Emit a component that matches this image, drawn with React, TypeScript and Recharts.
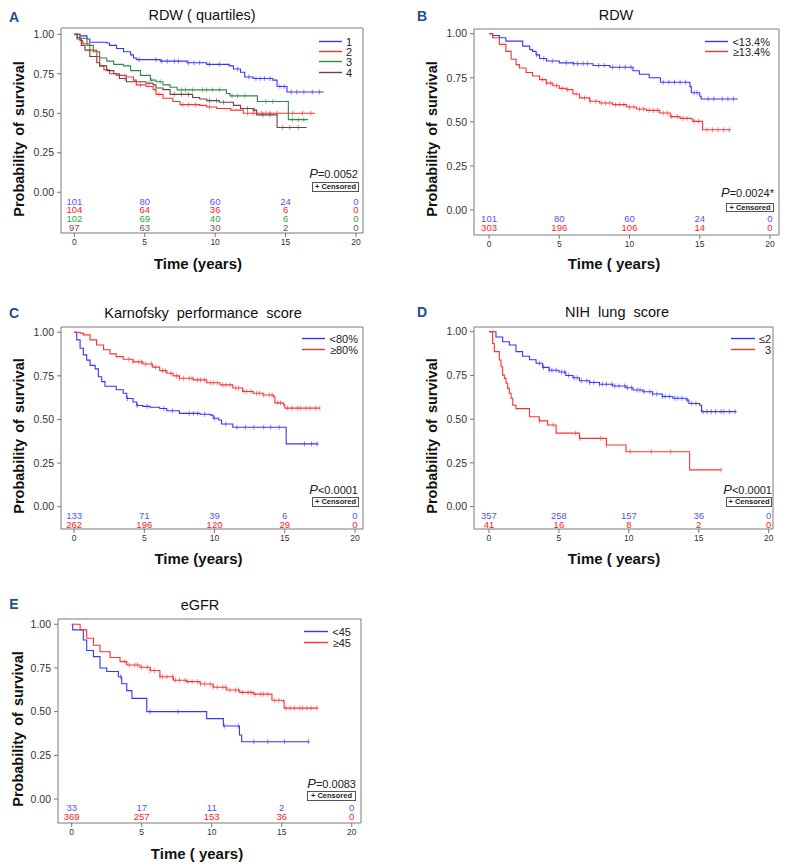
import React from 'react';
import { ComposedChart, Line, Scatter, XAxis, YAxis, ReferenceArea } from 'recharts';

type Pt = [number, number];

const xTicks = [0, 5, 10, 15, 20];
const yTicks = [0, 0.25, 0.5, 0.75, 1];

// A: RDW (quartiles)
const aQ1: Pt[] = [[0, 1], [0.4, 0.99], [0.9, 0.97], [1.1, 0.95], [2.3, 0.945], [2.5, 0.93], [3.0, 0.91], [3.5, 0.89], [4.0, 0.87], [4.2, 0.85], [4.4, 0.84], [6.1, 0.83], [8.0, 0.82], [9.4, 0.81], [11.0, 0.8], [11.3, 0.78], [11.8, 0.76], [12.1, 0.73], [12.7, 0.72], [14.1, 0.71], [14.4, 0.67], [15.1, 0.635], [17.7, 0.635]];
const aQ2: Pt[] = [[0, 1], [0.2, 0.98], [0.4, 0.96], [0.6, 0.94], [1.1, 0.9], [1.6, 0.86], [1.8, 0.8], [2.1, 0.775], [2.5, 0.75], [3.0, 0.74], [3.7, 0.73], [4.2, 0.71], [4.4, 0.68], [5.1, 0.67], [5.6, 0.65], [5.8, 0.62], [6.3, 0.595], [7.0, 0.575], [7.5, 0.555], [8.9, 0.55], [9.4, 0.54], [10.1, 0.53], [11.1, 0.52], [12.0, 0.5], [17.1, 0.5]];
const aQ3: Pt[] = [[0, 1], [0.4, 0.975], [0.9, 0.93], [1.35, 0.89], [1.8, 0.85], [2.3, 0.83], [2.8, 0.81], [3.5, 0.8], [4.0, 0.77], [4.7, 0.74], [5.4, 0.71], [5.8, 0.7], [6.3, 0.68], [6.8, 0.665], [7.3, 0.648], [10.8, 0.625], [11.05, 0.61], [13.0, 0.575], [15.2, 0.46], [16.6, 0.46]];
const aQ4: Pt[] = [[0, 1], [0.2, 0.97], [0.5, 0.93], [0.76, 0.9], [1.1, 0.86], [1.6, 0.82], [1.8, 0.8], [2.3, 0.77], [2.8, 0.75], [3.2, 0.72], [3.7, 0.7], [5.1, 0.69], [5.6, 0.68], [5.8, 0.66], [6.3, 0.65], [6.8, 0.62], [8.4, 0.6], [8.9, 0.59], [9.4, 0.58], [10.3, 0.57], [11.3, 0.55], [11.8, 0.53], [12.7, 0.52], [12.95, 0.49], [14.4, 0.41], [16.5, 0.41]];
const aQ1Cens = [4.6, 5.8, 6.2, 6.6, 7.1, 7.4, 8.1, 8.5, 8.9, 9.6, 10.3, 11.6, 12.4, 12.9, 13.2, 13.5, 13.9, 14.6, 14.9, 15.4, 15.8, 16.3, 16.9, 17.4];
const aQ2Cens = [4.7, 6.0, 7.7, 8.1, 8.6, 9.6, 12.3, 12.7, 13.3, 13.6, 13.9, 14.4, 15.5, 16.2, 16.8];
const aQ3Cens = [5.5, 6.1, 7.6, 7.9, 8.4, 9.1, 9.4, 9.8, 10.3, 11.2, 11.6, 12.1, 13.6, 14.1, 15.5, 15.9, 16.3];
const aQ4Cens = [3.6, 5.3, 7.1, 7.6, 8.1, 9.6, 10.1, 10.6, 12.3, 12.8, 13.4, 13.9, 14.8, 15.3, 15.9];
const aQ1Risk = [101, 80, 60, 24, 0];
const aQ2Risk = [104, 64, 36, 6, 0];
const aQ3Risk = [102, 69, 40, 6, 0];
const aQ4Risk = [97, 63, 30, 2, 0];

// B: RDW
const bLow: Pt[] = [[0, 1], [0.26, 0.99], [0.74, 0.977], [1.2, 0.958], [2.4, 0.93], [2.9, 0.91], [3.1, 0.9], [3.35, 0.88], [3.6, 0.86], [4.1, 0.845], [5.0, 0.835], [6.0, 0.83], [7.4, 0.82], [8.6, 0.81], [10.25, 0.79], [10.7, 0.77], [11.4, 0.75], [12.2, 0.725], [14.3, 0.7], [14.4, 0.665], [15.0, 0.645], [15.1, 0.63], [17.7, 0.63]];
const bHigh: Pt[] = [[0, 1], [0.26, 0.977], [0.74, 0.94], [1.2, 0.9], [1.57, 0.855], [1.93, 0.825], [2.16, 0.806], [2.64, 0.78], [3.1, 0.76], [3.6, 0.74], [4.07, 0.72], [4.54, 0.705], [5.0, 0.69], [5.5, 0.683], [5.97, 0.658], [6.44, 0.636], [7.16, 0.617], [7.87, 0.607], [8.8, 0.598], [9.8, 0.584], [10.5, 0.573], [11.2, 0.565], [12.15, 0.55], [12.9, 0.53], [13.6, 0.52], [14.4, 0.516], [14.5, 0.503], [15.2, 0.455], [17.2, 0.455]];
const bLowCens = [3.4, 3.9, 4.5, 5.5, 6.0, 6.3, 6.7, 7.0, 7.8, 8.2, 8.8, 9.3, 9.7, 10.1, 12.4, 12.8, 13.2, 13.6, 14.0, 14.6, 14.8, 15.6, 16.0, 16.6, 17.0, 17.4];
const bHighCens = [3.8, 4.1, 4.4, 4.8, 5.2, 5.6, 6.2, 6.8, 7.2, 7.6, 8.0, 8.3, 8.6, 9.0, 9.3, 9.6, 10.0, 10.3, 10.7, 11.0, 11.4, 11.7, 12.0, 12.4, 12.7, 13.0, 13.4, 13.8, 14.1, 14.6, 14.9, 15.5, 15.9, 16.3, 16.7, 17.1];
const bLowRisk = [101, 80, 60, 24, 0];
const bHighRisk = [303, 196, 106, 14, 0];

// C: Karnofsky performance score
const cLow: Pt[] = [[0, 1], [0.19, 0.956], [0.43, 0.908], [0.66, 0.87], [0.9, 0.84], [1.14, 0.81], [1.5, 0.79], [1.73, 0.745], [1.97, 0.717], [2.2, 0.69], [3.0, 0.67], [3.5, 0.65], [3.75, 0.62], [4.2, 0.6], [4.46, 0.58], [4.9, 0.575], [5.4, 0.57], [6.1, 0.563], [6.6, 0.55], [7.5, 0.535], [8.97, 0.53], [9.7, 0.525], [9.9, 0.507], [10.3, 0.497], [10.5, 0.474], [11.3, 0.455], [15.1, 0.36], [17.4, 0.36]];
const cHigh: Pt[] = [[0, 1], [0.43, 0.995], [0.66, 0.985], [1.14, 0.956], [1.6, 0.927], [2.1, 0.9], [2.56, 0.876], [3.0, 0.86], [3.5, 0.845], [4.2, 0.83], [4.9, 0.818], [5.6, 0.8], [6.1, 0.78], [6.6, 0.765], [7.05, 0.75], [7.5, 0.736], [8.5, 0.727], [9.44, 0.71], [10.4, 0.698], [11.3, 0.68], [12.0, 0.66], [12.76, 0.65], [13.45, 0.64], [14.2, 0.63], [14.3, 0.595], [14.9, 0.585], [15.0, 0.565], [17.5, 0.565]];
const cLowCens = [3.8, 4.5, 5.2, 6.4, 7.0, 8.2, 8.5, 8.8, 9.3, 10.0, 10.8, 11.6, 12.2, 12.8, 13.5, 14.0, 14.6, 16.4, 16.9, 17.3];
const cHighCens = [3.9, 4.2, 4.6, 4.8, 5.1, 5.5, 5.8, 6.3, 6.5, 6.9, 7.3, 7.5, 7.8, 8.2, 8.4, 8.8, 9.0, 9.3, 9.7, 9.9, 10.2, 10.6, 10.8, 11.1, 11.5, 11.7, 12.1, 12.3, 12.6, 13.0, 13.2, 13.5, 13.9, 14.1, 14.5, 14.7, 15.2, 15.5, 15.9, 16.1, 16.5, 16.8, 17.2, 17.5];
const cLowRisk = [133, 71, 39, 6, 0];
const cHighRisk = [262, 196, 120, 29, 0];

// D: NIH lung score
const dLow: Pt[] = [[0, 1], [0.5, 0.97], [0.98, 0.943], [1.46, 0.924], [1.93, 0.886], [2.4, 0.86], [2.9, 0.84], [3.37, 0.82], [3.84, 0.796], [4.3, 0.78], [5.0, 0.77], [5.5, 0.75], [6.0, 0.737], [6.47, 0.72], [7.2, 0.71], [7.9, 0.7], [8.85, 0.69], [9.8, 0.68], [10.3, 0.667], [11.0, 0.657], [11.7, 0.644], [12.4, 0.63], [13.15, 0.62], [14.1, 0.61], [14.3, 0.59], [15.06, 0.58], [15.2, 0.543], [17.7, 0.543]];
const dHigh: Pt[] = [[0, 1], [0.26, 0.933], [0.38, 0.886], [0.74, 0.838], [0.86, 0.8], [0.98, 0.752], [1.1, 0.733], [1.22, 0.705], [1.34, 0.676], [1.46, 0.648], [1.58, 0.62], [1.7, 0.58], [1.93, 0.56], [2.9, 0.514], [3.6, 0.49], [4.2, 0.467], [4.8, 0.42], [6.47, 0.39], [8.4, 0.352], [9.8, 0.314], [14.35, 0.21], [16.6, 0.21]];
const dLowCens = [3.6, 3.9, 4.3, 4.5, 4.8, 5.2, 5.4, 5.7, 6.1, 6.3, 6.6, 7.0, 7.2, 7.5, 7.9, 8.1, 8.4, 8.8, 9.0, 9.3, 9.7, 9.9, 10.2, 10.6, 10.8, 11.1, 11.5, 11.7, 12.0, 12.4, 12.6, 12.9, 13.3, 13.5, 13.8, 14.2, 14.5, 14.8, 15.3, 15.6, 15.9, 16.2, 16.6, 16.8, 17.2, 17.6];
const dHighCens = [3.6, 4.6, 6.2, 6.5, 8.0, 8.4, 10.1, 11.6, 13.0, 16.6];
const dLowRisk = [357, 258, 157, 36, 0];
const dHighRisk = [41, 16, 8, 2, 0];

// E: eGFR
const eLow: Pt[] = [[0, 1], [0.07, 0.968], [0.83, 0.91], [1.07, 0.85], [1.55, 0.815], [2.02, 0.75], [2.5, 0.73], [3.33, 0.7], [3.57, 0.66], [3.93, 0.62], [4.3, 0.576], [5.36, 0.5], [9.64, 0.46], [10.83, 0.418], [11.98, 0.366], [12.14, 0.328], [17.0, 0.328]];
const eHigh: Pt[] = [[0, 1], [0.6, 0.968], [1.07, 0.92], [1.55, 0.88], [2.02, 0.843], [2.74, 0.81], [3.45, 0.786], [3.93, 0.767], [4.88, 0.754], [5.6, 0.735], [6.3, 0.7], [7.26, 0.68], [8.2, 0.672], [9.17, 0.658], [10.1, 0.64], [11.07, 0.624], [12.0, 0.61], [12.98, 0.6], [14.3, 0.565], [15.12, 0.56], [15.17, 0.52], [17.6, 0.52]];
const eLowCens = [3.5, 5.6, 7.6, 10.9, 11.9, 13.0, 14.0, 15.2, 16.9];
const eHighCens = [3.8, 4.1, 4.5, 4.7, 5.0, 5.4, 5.6, 5.9, 6.3, 6.5, 6.8, 7.2, 7.4, 7.7, 8.1, 8.3, 8.6, 9.0, 9.2, 9.5, 9.9, 10.1, 10.4, 10.8, 11.0, 11.3, 11.7, 11.9, 12.2, 12.6, 12.8, 13.1, 13.5, 13.7, 14.0, 14.5, 14.8, 15.3, 15.6, 15.9, 16.3, 16.5, 16.8, 17.1, 17.5];
const eLowRisk = [33, 17, 11, 2, 0];
const eHighRisk = [369, 257, 153, 36, 0];

const BLUE = '#3535ff';
const RED = '#ff3030';
const GREEN = '#2f8a45';
const BROWN = '#6e4242';

interface Series {
  name: string;
  color: string;
  numColor: string;
  steps: Pt[];
  censor: number[];
  atRisk: number[];
}

interface PanelCfg {
  letter: string;
  letterPos: [number, number];
  title: string;
  titlePos: [number, number];
  box: { l: number; t: number; r: number; b: number };
  xDomain: [number, number];
  yDomain: [number, number];
  yLabelPos: [number, number];
  xLabel: string;
  xLabelPos: [number, number];
  legend: { x1: number; x2: number; right: number; rows: number[] };
  pSign: string;
  pPos: [number, number];
  cens: { l: number; t: number; r: number; b: number };
  series: Series[];
}

const survivalAt = (pts: Pt[], t: number) => {
  let v = pts[0][1];
  for (const [x, y] of pts) if (x <= t) v = y;
  return v;
};

const panels: PanelCfg[] = [
  {
    letter: 'A', letterPos: [14, 17], title: 'RDW ( quartiles)', titlePos: [202, 15],
    box: { l: 61, t: 28, r: 363, b: 233 }, xDomain: [-0.945, 20.5], yDomain: [-0.258, 1.04],
    yLabelPos: [18.5, 139], xLabel: 'Time (years)', xLabelPos: [198, 263],
    legend: { x1: 319, x2: 342, right: 352, rows: [41, 51, 61, 72] },
    pSign: '=0.0052', pPos: [358, 173], cens: { l: 312, t: 182, r: 359, b: 192 },
    series: [
      { name: '1', color: BLUE, numColor: '#5252ff', steps: aQ1, censor: aQ1Cens, atRisk: aQ1Risk },
      { name: '2', color: RED, numColor: '#ff2020', steps: aQ2, censor: aQ2Cens, atRisk: aQ2Risk },
      { name: '3', color: GREEN, numColor: '#1fa843', steps: aQ3, censor: aQ3Cens, atRisk: aQ3Risk },
      { name: '4', color: BROWN, numColor: '#7d5050', steps: aQ4, censor: aQ4Cens, atRisk: aQ4Risk },
    ],
  },
  {
    letter: 'B', letterPos: [422, 16], title: 'RDW', titlePos: [616, 15],
    box: { l: 474, t: 29, r: 779, b: 235 }, xDomain: [-1.07, 20.64], yDomain: [-0.142, 1.027],
    yLabelPos: [432, 139], xLabel: 'Time ( years)', xLabelPos: [614, 263],
    legend: { x1: 705, x2: 728, right: 770, rows: [41, 51] },
    pSign: '=0.0024*', pPos: [774, 192], cens: { l: 726, t: 203, r: 774, b: 212 },
    series: [
      { name: '<13.4%', color: BLUE, numColor: '#5252ff', steps: bLow, censor: bLowCens, atRisk: bLowRisk },
      { name: '≥13.4%', color: RED, numColor: '#ff2020', steps: bHigh, censor: bHighCens, atRisk: bHighRisk },
    ],
  },
  {
    letter: 'C', letterPos: [14, 313], title: 'Karnofsky  performance  score', titlePos: [203, 313],
    box: { l: 61, t: 327, r: 363, b: 529 }, xDomain: [-0.93, 20.57], yDomain: [-0.128, 1.03],
    yLabelPos: [18.5, 435.5], xLabel: 'Time (years)', xLabelPos: [198.5, 558],
    legend: { x1: 302, x2: 325, right: 358, rows: [338, 349] },
    pSign: '<0.0001', pPos: [358, 489], cens: { l: 312, t: 497, r: 359, b: 506.5 },
    series: [
      { name: '<80%', color: BLUE, numColor: '#5252ff', steps: cLow, censor: cLowCens, atRisk: cLowRisk },
      { name: '≥80%', color: RED, numColor: '#ff2020', steps: cHigh, censor: cHighCens, atRisk: cHighRisk },
    ],
  },
  {
    letter: 'D', letterPos: [422, 312], title: 'NIH  lung  score', titlePos: [617, 312],
    box: { l: 474, t: 327, r: 773, b: 529 }, xDomain: [-1.07, 20.31], yDomain: [-0.128, 1.027],
    yLabelPos: [432, 435.5], xLabel: 'Time ( years)', xLabelPos: [614, 558],
    legend: { x1: 731, x2: 755, right: 771, rows: [338, 349] },
    pSign: '<0.0001', pPos: [772, 489], cens: { l: 726, t: 497, r: 772, b: 506.5 },
    series: [
      { name: '≤2', color: BLUE, numColor: '#5252ff', steps: dLow, censor: dLowCens, atRisk: dLowRisk },
      { name: '3', color: RED, numColor: '#ff2020', steps: dHigh, censor: dHighCens, atRisk: dHighRisk },
    ],
  },
  {
    letter: 'E', letterPos: [14, 604], title: 'eGFR', titlePos: [200, 605],
    box: { l: 58, t: 619, r: 361, b: 823 }, xDomain: [-0.98, 20.66], yDomain: [-0.137, 1.03],
    yLabelPos: [17.5, 728.5], xLabel: 'Time ( years)', xLabelPos: [197, 853],
    legend: { x1: 304, x2: 328, right: 351, rows: [631, 642] },
    pSign: '=0.0083', pPos: [356, 782.7], cens: { l: 307, t: 791, r: 356, b: 801 },
    series: [
      { name: '<45', color: BLUE, numColor: '#5252ff', steps: eLow, censor: eLowCens, atRisk: eLowRisk },
      { name: '≥45', color: RED, numColor: '#ff2020', steps: eHigh, censor: eHighCens, atRisk: eHighRisk },
    ],
  },
];

const ML = 60;
const MT = 10;
const MR = 10;
const MB = 24;

// censored observations: short vertical ticks on the curve
const censorShape = (color: string) => (p: any) =>
  p.cx == null ? <g /> : (
    <line x1={p.cx} x2={p.cx} y1={p.cy - 2.5} y2={p.cy + 2.5} stroke={color} strokeOpacity={0.6} strokeWidth={1} />
  );

// number-at-risk rows, hung under y = 0
const riskShape = (color: string, dy: number) => (p: any) =>
  p.cx == null ? <g /> : (
    <text x={p.cx} y={p.cy + dy} textAnchor="middle" dominantBaseline="central" fontSize={9.5} fill={color}>
      {p.payload.n}
    </text>
  );

const abs = (x: number, y: number, extra: React.CSSProperties = {}): React.CSSProperties => ({
  position: 'absolute', left: x, top: y, whiteSpace: 'pre', lineHeight: 1, ...extra,
});

function Panel({ cfg }: { cfg: PanelCfg }) {
  const { box, xDomain, yDomain } = cfg;
  const w = box.r - box.l;
  const h = box.b - box.t;
  const rowStep = cfg.series.length > 2 ? 8.9 : 8.8;
  return (
    <>
      <div style={abs(box.l - ML, box.t - MT)}>
        <ComposedChart width={w + ML + MR} height={h + MT + MB} margin={{ top: MT, right: MR, left: 0, bottom: 0 }}>
          <XAxis
            type="number" dataKey="x" domain={xDomain} ticks={xTicks} interval={0} allowDataOverflow
            axisLine={false} tickSize={4} tickLine={{ stroke: '#777' }} height={MB}
            tick={{ fontSize: 8.5, fill: '#333' }}
          />
          <YAxis
            type="number" dataKey="y" domain={yDomain} ticks={yTicks} interval={0} allowDataOverflow
            axisLine={false} tickSize={4} tickMargin={3} tickLine={{ stroke: '#777' }} width={ML}
            tickFormatter={(v: number) => v.toFixed(2)} tick={{ fontSize: 10.5, fill: '#333' }}
          />
          <ReferenceArea
            x1={xDomain[0]} x2={xDomain[1]} y1={yDomain[0]} y2={yDomain[1]}
            fill="none" fillOpacity={0} stroke="#7a7a7a" strokeWidth={1} ifOverflow="visible"
          />
          {cfg.series.map((s) => (
            <Line
              key={'l' + s.name} data={s.steps.map(([x, y]) => ({ x, y }))} dataKey="y" type="stepAfter"
              stroke={s.color} strokeWidth={1.1} dot={false} activeDot={false} isAnimationActive={false}
            />
          ))}
          {cfg.series.map((s) => (
            <Scatter
              key={'c' + s.name} data={s.censor.map((t) => ({ x: t, y: survivalAt(s.steps, t) }))} dataKey="y"
              shape={censorShape(s.color)} isAnimationActive={false}
            />
          ))}
          {cfg.series.map((s, i) => (
            <Scatter
              key={'r' + s.name} data={xTicks.map((t, k) => ({ x: t, y: 0, n: s.atRisk[k] }))} dataKey="y"
              shape={riskShape(s.numColor, 8.8 + rowStep * i)} isAnimationActive={false}
            />
          ))}
        </ComposedChart>
      </div>
      <div style={abs(cfg.letterPos[0], cfg.letterPos[1], { transform: 'translate(-50%,-50%)', fontSize: 14, fontWeight: 'bold', color: '#1f4f8e' })}>
        {cfg.letter}
      </div>
      <div style={abs(cfg.titlePos[0], cfg.titlePos[1], { transform: 'translate(-50%,-50%)', fontSize: 14.5, color: '#111' })}>
        {cfg.title}
      </div>
      <div style={abs(cfg.yLabelPos[0], cfg.yLabelPos[1], { transform: 'translate(-50%,-50%) rotate(-90deg)', fontSize: 14.5, fontWeight: 'bold', color: '#111', wordSpacing: 2 })}>
        Probability of survival
      </div>
      <div style={abs(cfg.xLabelPos[0], cfg.xLabelPos[1], { transform: 'translate(-50%,-50%)', fontSize: 15, fontWeight: 'bold', color: '#111' })}>
        {cfg.xLabel}
      </div>
      <svg style={abs(0, 0, { overflow: 'visible', width: 1, height: 1 })}>
        {cfg.series.map((s, i) => (
          <line
            key={'lgl' + s.name} x1={cfg.legend.x1} x2={cfg.legend.x2} y1={cfg.legend.rows[i] + 0.5} y2={cfg.legend.rows[i] + 0.5}
            stroke={s.color} strokeWidth={1.4}
          />
        ))}
      </svg>
      {cfg.series.map((s, i) => (
        <div key={'lg' + s.name} style={abs(cfg.legend.right, cfg.legend.rows[i] + 0.5, { transform: 'translate(-100%,-50%)', fontSize: 11, color: '#222' })}>
          {s.name}
        </div>
      ))}
      <div style={abs(cfg.pPos[0], cfg.pPos[1], { transform: 'translate(-100%,-50%)', fontSize: 11, color: '#222' })}>
        <span style={{ fontStyle: 'italic', fontSize: 13 }}>P</span>
        {cfg.pSign}
      </div>
      <div
        style={abs(cfg.cens.l, cfg.cens.t, {
          width: cfg.cens.r - cfg.cens.l, height: cfg.cens.b - cfg.cens.t, boxSizing: 'border-box',
          border: '1px solid #555', fontSize: 7.5, fontWeight: 'bold', color: '#222',
          display: 'flex', alignItems: 'center', justifyContent: 'center',
        })}
      >
        + Censored
      </div>
    </>
  );
}

export default function App() {
  return (
    <div
      style={{
        position: 'absolute', left: 0, top: 0, width: 786, height: 868, background: '#fff',
        overflow: 'hidden', fontFamily: '"Liberation Sans", Arial, sans-serif',
      }}
    >
      {panels.map((p) => (
        <Panel key={p.letter} cfg={p} />
      ))}
    </div>
  );
}
